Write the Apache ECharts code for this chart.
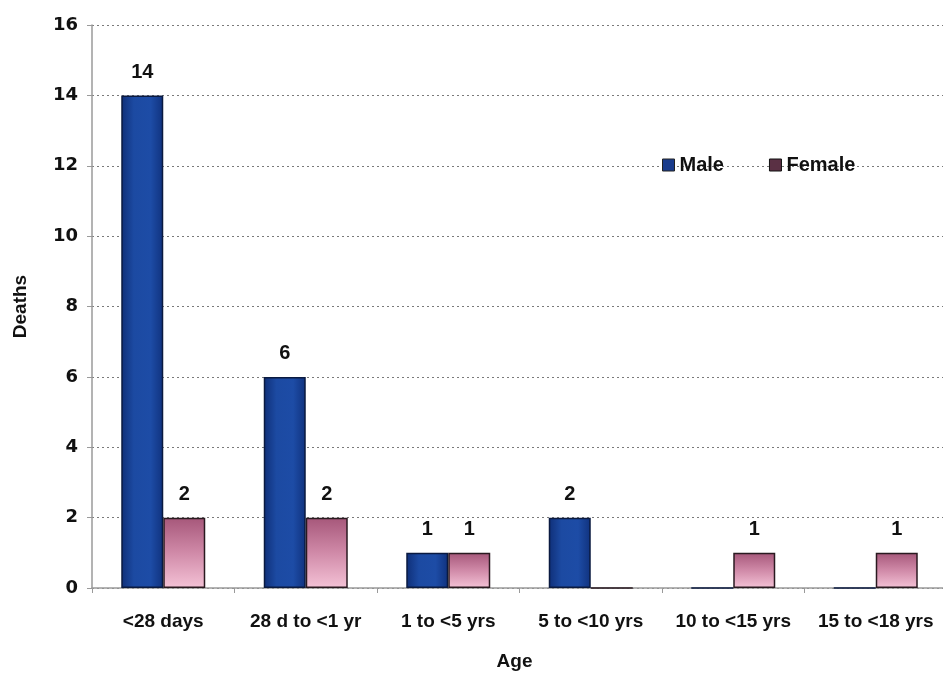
<!DOCTYPE html>
<html>
<head>
<meta charset="utf-8">
<script src="https://cdn.jsdelivr.net/npm/echarts@6/dist/echarts.min.js"></script>
<style>
  html, body { margin: 0; padding: 0; background: #ffffff; }
  #chart { width: 943px; height: 677px; }
</style>
</head>
<body>
<div id="chart"></div>
<script>
// Deaths by age group and sex
const ageGroups = ['<28 days', '28 d to <1 yr', '1 to <5 yrs', '5 to <10 yrs', '10 to <15 yrs', '15 to <18 yrs'];
const maleDeaths = [14, 6, 1, 2, 0, 0];
const femaleDeaths = [2, 2, 1, 0, 1, 1];
const yTicks = { min: 0, max: 16, step: 2 };

const chart = echarts.init(document.getElementById('chart'), null, { renderer: 'canvas' });

const maleFill = new echarts.graphic.LinearGradient(0, 0, 1, 0, [
  { offset: 0, color: '#0f2f78' },
  { offset: 0.3, color: '#1c4aa2' },
  { offset: 0.7, color: '#1d4ca6' },
  { offset: 1, color: '#10327e' }
]);
const femaleFill = new echarts.graphic.LinearGradient(0, 0, 0, 1, [
  { offset: 0, color: '#a6577a' },
  { offset: 0.5, color: '#d08aa8' },
  { offset: 1, color: '#f4c2d6' }
]);

const baseFont = 'Liberation Sans, Arial, sans-serif';

const valueLabel = {
  show: true,
  position: 'top',
  distance: 13,
  fontFamily: baseFont,
  fontWeight: 'bold',
  fontSize: 20,
  color: '#111',
  formatter: p => (p.value === 0 ? '' : String(p.value))
};

chart.setOption({
  animation: false,
  backgroundColor: '#ffffff',
  // the plot runs past the right edge of the canvas, so keep the grid box fixed
  grid: { left: 92, top: 25, width: 855, height: 563, containLabel: false, outerBoundsMode: 'none' },
  legend: {
    left: 657,
    top: 150,
    itemGap: 45,
    itemWidth: 12,
    itemHeight: 12,
    icon: 'rect',
    textStyle: {
      fontFamily: baseFont,
      fontWeight: 'bold',
      fontSize: 20,
      color: '#111',
      padding: [0, 0, 0, 0]
    },
    data: [
      { name: 'Male', itemStyle: { color: '#1a3c8c', borderColor: '#222', borderWidth: 1 } },
      { name: 'Female', itemStyle: { color: '#5a3044', borderColor: '#111', borderWidth: 1 } }
    ]
  },
  xAxis: {
    type: 'category',
    data: ageGroups,
    name: 'Age',
    nameLocation: 'middle',
    nameGap: 64,
    nameTextStyle: {
      fontFamily: baseFont,
      fontWeight: 'bold',
      fontSize: 19,
      color: '#111',
      padding: [0, 0, 0, -10]
    },
    axisLine: { lineStyle: { color: '#9a9a9a', width: 1.5 } },
    axisTick: { show: true, length: 5, lineStyle: { color: '#9a9a9a' } },
    axisLabel: {
      margin: 24,
      interval: 0,
      fontFamily: baseFont,
      fontWeight: 'bold',
      fontSize: 19,
      color: '#111'
    }
  },
  yAxis: {
    type: 'value',
    min: yTicks.min,
    max: yTicks.max,
    interval: yTicks.step,
    name: 'Deaths',
    nameLocation: 'middle',
    nameRotate: 90,
    nameGap: 62,
    nameTextStyle: {
      fontFamily: baseFont,
      fontWeight: 'bold',
      fontSize: 19,
      color: '#111'
    },
    axisLine: { show: true, lineStyle: { color: '#9a9a9a', width: 1.5 } },
    axisTick: { show: true, length: 5, lineStyle: { color: '#9a9a9a' } },
    axisLabel: {
      margin: 14,
      fontFamily: 'DejaVu Sans, sans-serif',
      fontWeight: 'bold',
      fontSize: 18,
      color: '#111'
    },
    splitLine: { show: true, lineStyle: { color: '#7a7a7a', type: [2, 3], width: 1 } }
  },
  series: [
    {
      name: 'Male',
      type: 'bar',
      data: maleDeaths,
      barWidth: 42,
      barGap: '0%',
      itemStyle: { color: maleFill, borderColor: '#0a1a40', borderWidth: 1.5 },
      label: valueLabel
    },
    {
      name: 'Female',
      type: 'bar',
      data: femaleDeaths,
      barWidth: 42,
      barGap: '0%',
      itemStyle: { color: femaleFill, borderColor: '#2a1a20', borderWidth: 1.5 },
      label: valueLabel
    }
  ]
});
</script>
</body>
</html>
